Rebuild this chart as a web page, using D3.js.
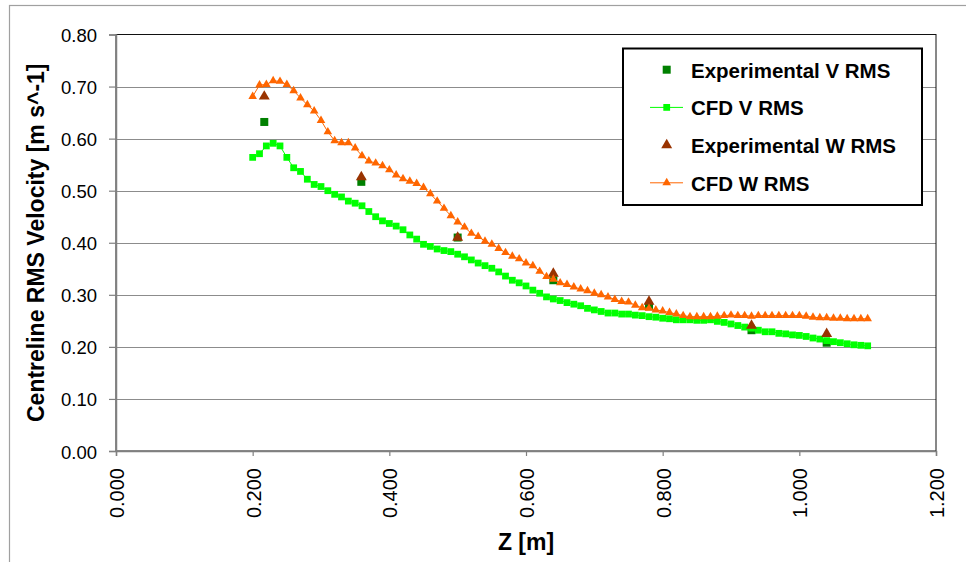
<!DOCTYPE html>
<html lang="en">
<head>
    <meta charset="UTF-8">
    <title>Centreline RMS Velocity</title>
    <style>
        body {
            padding: 0;
            margin: 0;
            width: 966px;
            height: 562px;
            background: #fff;
            overflow: hidden;
        }
        svg text {
            font-family: "Liberation Sans", Arial, sans-serif;
        }
    </style>
</head>
<body>
    <script src="https://d3js.org/d3.v7.min.js"></script>
    <script>
        // CFD sample positions along the centreline [m]
        const cfdZ = [0.20, 0.21, 0.22, 0.23, 0.24, 0.25, 0.26, 0.27, 0.28, 0.29,
            0.30, 0.31, 0.32, 0.33, 0.34, 0.35, 0.36, 0.37, 0.38, 0.39,
            0.40, 0.41, 0.42, 0.43, 0.44, 0.45, 0.46, 0.47, 0.48, 0.49,
            0.50, 0.51, 0.52, 0.53, 0.54, 0.55, 0.56, 0.57, 0.58, 0.59,
            0.60, 0.61, 0.62, 0.63, 0.64, 0.65, 0.66, 0.67, 0.68, 0.69,
            0.70, 0.71, 0.72, 0.73, 0.74, 0.75, 0.76, 0.77, 0.78, 0.79,
            0.80, 0.81, 0.82, 0.83, 0.84, 0.85, 0.86, 0.87, 0.88, 0.89,
            0.90, 0.91, 0.92, 0.93, 0.94, 0.95, 0.96, 0.97, 0.98, 0.99,
            1.00, 1.01, 1.02, 1.03, 1.04, 1.05, 1.06, 1.07, 1.08, 1.09, 1.10];

        const cfdV = [0.564, 0.571, 0.586, 0.591, 0.586, 0.564, 0.544, 0.537, 0.522, 0.512,
            0.508, 0.500, 0.493, 0.488, 0.480, 0.476, 0.471, 0.460, 0.450, 0.442,
            0.437, 0.432, 0.425, 0.415, 0.407, 0.397, 0.393, 0.388, 0.385, 0.383,
            0.378, 0.373, 0.367, 0.361, 0.356, 0.351, 0.344, 0.336, 0.328, 0.323,
            0.317, 0.309, 0.303, 0.296, 0.292, 0.289, 0.285, 0.282, 0.279, 0.274,
            0.271, 0.268, 0.265, 0.265, 0.263, 0.263, 0.261, 0.260, 0.258, 0.257,
            0.255, 0.254, 0.252, 0.252, 0.252, 0.251, 0.251, 0.252, 0.249, 0.247,
            0.244, 0.241, 0.238, 0.236, 0.232, 0.229, 0.229, 0.226, 0.225, 0.223,
            0.222, 0.220, 0.217, 0.215, 0.212, 0.210, 0.208, 0.206, 0.204, 0.203, 0.202];

        const cfdW = [0.681, 0.703, 0.704, 0.711, 0.710, 0.704, 0.692, 0.678, 0.665, 0.653,
            0.635, 0.613, 0.596, 0.592, 0.592, 0.582, 0.567, 0.557, 0.553, 0.548,
            0.540, 0.530, 0.523, 0.518, 0.514, 0.506, 0.494, 0.480, 0.466, 0.452,
            0.440, 0.430, 0.418, 0.412, 0.403, 0.397, 0.389, 0.381, 0.374, 0.369,
            0.361, 0.356, 0.345, 0.335, 0.330, 0.323, 0.320, 0.315, 0.311, 0.308,
            0.303, 0.300, 0.296, 0.291, 0.287, 0.286, 0.280, 0.275, 0.274, 0.271,
            0.269, 0.266, 0.263, 0.260, 0.258, 0.258, 0.258, 0.258, 0.259, 0.260,
            0.261, 0.260, 0.260, 0.259, 0.260, 0.260, 0.260, 0.260, 0.260, 0.260,
            0.260, 0.259, 0.257, 0.256, 0.256, 0.255, 0.255, 0.254, 0.254, 0.254, 0.254];

        // experimental stations
        const expZ = [0.217, 0.359, 0.500, 0.640, 0.780, 0.930, 1.040];
        const expV = [0.632, 0.517, 0.410, 0.328, 0.278, 0.232, 0.208];
        const expW = [0.681, 0.526, 0.410, 0.341, 0.287, 0.241, 0.225];

        const yTicks = [0, 0.1, 0.2, 0.3, 0.4, 0.5, 0.6, 0.7, 0.8];
        const xTicks = [0, 0.2, 0.4, 0.6, 0.8, 1.0, 1.2];
        const seriesNames = ['Experimental V RMS', 'CFD V RMS', 'Experimental W RMS', 'CFD W RMS'];

        const width = 966, height = 562;
        const plot = { left: 116, right: 936, top: 34.5, bottom: 451 };

        const svg = d3.select('body').append('svg')
            .attr('width', width)
            .attr('height', height);

        // outer chart frame
        svg.append('rect')
            .attr('x', 9.5).attr('y', 5.5)
            .attr('width', 1000).attr('height', 600)
            .attr('fill', 'none')
            .attr('stroke', '#a0a0a0')
            .attr('stroke-width', 1.2);

        const x = d3.scaleLinear().domain([0, 1.2]).range([plot.left, plot.right]);
        const y = d3.scaleLinear().domain([0, 0.8]).range([plot.bottom, plot.top]);

        // gridlines
        svg.append('g').selectAll('line')
            .data(yTicks.filter(d => d > 0 && d < 0.8))
            .join('line')
            .attr('x1', plot.left).attr('x2', plot.right)
            .attr('y1', d => Math.round(y(d)) + 0.5).attr('y2', d => Math.round(y(d)) + 0.5)
            .attr('stroke', '#8c8c8c')
            .attr('stroke-width', 1);

        // plot area border (top and right dark)
        svg.append('rect')
            .attr('x', plot.left).attr('y', plot.top)
            .attr('width', plot.right - plot.left)
            .attr('height', plot.bottom - plot.top)
            .attr('fill', 'none')
            .attr('stroke', '#111')
            .attr('stroke-width', 1);

        // y axis
        const yAxis = svg.append('g')
            .attr('transform', `translate(${plot.left},0)`)
            .call(d3.axisLeft(y).tickValues(yTicks).tickFormat(d3.format('.2f')).tickSize(7).tickPadding(12));
        yAxis.select('.domain').attr('stroke', '#808080').attr('stroke-width', 1.5);
        yAxis.selectAll('.tick line').attr('stroke', '#808080').attr('stroke-width', 1.2);
        yAxis.selectAll('.tick text')
            .attr('font-size', 18.5)
            .attr('font-family', '"Liberation Sans", Arial, sans-serif')
            .attr('fill', '#000')
            .attr('dy', '0.38em');

        // x axis with vertical labels
        const xAxis = svg.append('g')
            .attr('transform', `translate(0,${plot.bottom})`)
            .call(d3.axisBottom(x).tickValues(xTicks).tickFormat(d3.format('.3f')).tickSize(5));
        xAxis.select('.domain').attr('stroke', '#808080').attr('stroke-width', 1.5);
        xAxis.selectAll('.tick line').attr('stroke', '#808080').attr('stroke-width', 1.2);
        xAxis.selectAll('.tick text')
            .attr('font-size', 20)
            .attr('font-family', '"Liberation Sans", Arial, sans-serif')
            .attr('fill', '#000')
            .attr('transform', 'rotate(-90)')
            .attr('text-anchor', 'end')
            .attr('x', -17)
            .attr('y', 7.5)
            .attr('dy', 0);

        // axis titles
        svg.append('text')
            .attr('transform', `translate(44,${(plot.top + plot.bottom) / 2}) rotate(-90)`)
            .attr('text-anchor', 'middle')
            .attr('font-size', 23)
            .attr('font-weight', 'bold')
            .text('Centreline RMS Velocity [m s^-1]');

        svg.append('text')
            .attr('x', (plot.left + plot.right) / 2)
            .attr('y', 550)
            .attr('text-anchor', 'middle')
            .attr('font-size', 23)
            .attr('font-weight', 'bold')
            .text('Z [m]');

        const square = d3.symbol().type(d3.symbolSquare);
        const triangle = d3.symbol().type(d3.symbolTriangle);

        const cfdVData = cfdZ.map((z, i) => [z, cfdV[i]]);
        const cfdWData = cfdZ.map((z, i) => [z, cfdW[i]]);
        const expVData = expZ.map((z, i) => [z, expV[i]]);
        const expWData = expZ.map((z, i) => [z, expW[i]]);

        const line = d3.line().x(d => x(d[0])).y(d => y(d[1]));

        // Experimental V
        svg.append('g').selectAll('path')
            .data(expVData)
            .join('path')
            .attr('transform', d => `translate(${x(d[0])},${y(d[1])})`)
            .attr('d', square.size(64)())
            .attr('fill', '#008000');

        // CFD V
        svg.append('path')
            .datum(cfdVData)
            .attr('d', line)
            .attr('fill', 'none')
            .attr('stroke', '#00ff00')
            .attr('stroke-width', 1);
        svg.append('g').selectAll('path')
            .data(cfdVData)
            .join('path')
            .attr('transform', d => `translate(${x(d[0])},${y(d[1])})`)
            .attr('d', square.size(46)())
            .attr('fill', '#00ff00');

        // Experimental W
        svg.append('g').selectAll('path')
            .data(expWData)
            .join('path')
            .attr('transform', d => `translate(${x(d[0])},${y(d[1])})`)
            .attr('d', triangle.size(52)())
            .attr('fill', '#993300');

        // CFD W
        svg.append('path')
            .datum(cfdWData)
            .attr('d', line)
            .attr('fill', 'none')
            .attr('stroke', '#ff6600')
            .attr('stroke-width', 1);
        svg.append('g').selectAll('path')
            .data(cfdWData)
            .join('path')
            .attr('transform', d => `translate(${x(d[0])},${y(d[1])})`)
            .attr('d', triangle.size(32)())
            .attr('fill', '#ff6600');

        // legend
        const legend = svg.append('g').attr('class', 'legend');
        legend.append('rect')
            .attr('x', 623).attr('y', 48.5)
            .attr('width', 299).attr('height', 156.5)
            .attr('fill', '#fff')
            .attr('stroke', '#000')
            .attr('stroke-width', 2);

        const legendStyle = [
            { color: '#008000', shape: square.size(64)(), line: false },
            { color: '#00ff00', shape: square.size(46)(), line: true },
            { color: '#993300', shape: triangle.size(52)(), line: false },
            { color: '#ff6600', shape: triangle.size(32)(), line: true }
        ];
        const rowY = i => 77.7 + i * 37.7;

        const rows = legend.selectAll('g.row')
            .data(seriesNames)
            .join('g')
            .attr('class', 'row');
        rows.filter((d, i) => legendStyle[i].line)
            .append('line')
            .attr('x1', 650).attr('x2', 683)
            .attr('y1', (d, i) => 0).attr('y2', 0)
            .attr('stroke', d => legendStyle[seriesNames.indexOf(d)].color)
            .attr('transform', d => `translate(0,${rowY(seriesNames.indexOf(d)) - 8})`);
        rows.append('path')
            .attr('transform', (d, i) => `translate(666.7,${rowY(i) - 8})`)
            .attr('d', (d, i) => legendStyle[i].shape)
            .attr('fill', (d, i) => legendStyle[i].color);
        rows.append('text')
            .attr('x', 691)
            .attr('y', (d, i) => rowY(i))
            .attr('font-size', 20.5)
            .attr('font-weight', 'bold')
            .text(d => d);
    </script>
</body>
</html>
